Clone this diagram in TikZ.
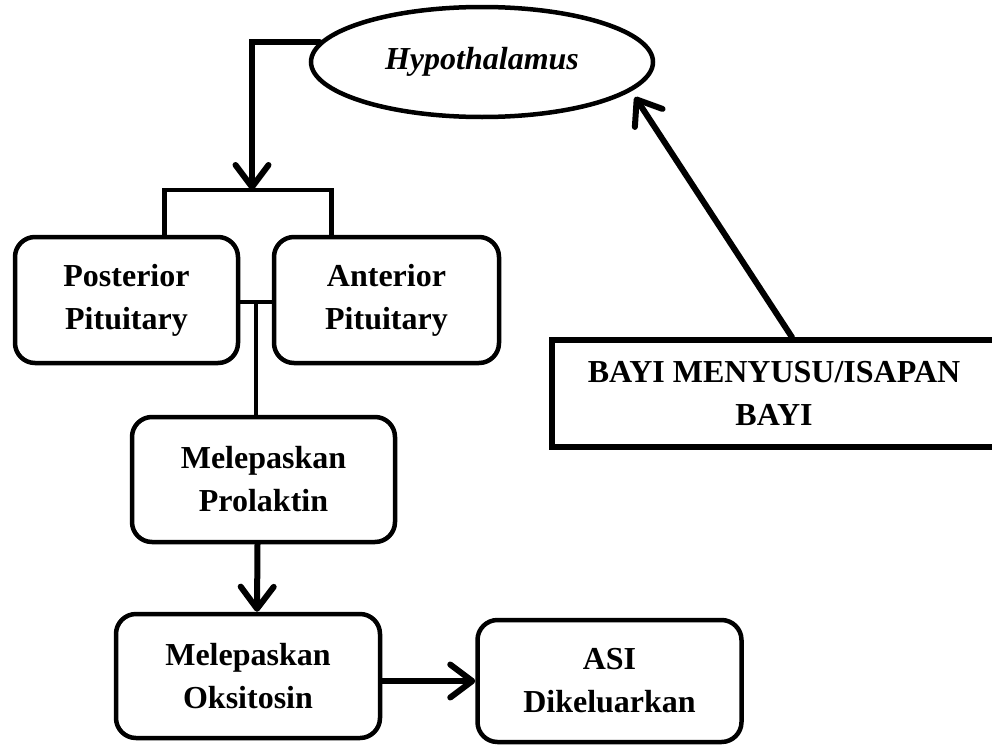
\documentclass[tikz,border=0pt]{standalone}
\usepackage{fontspec}
\setmainfont{Liberation Serif}
\usetikzlibrary{shapes.geometric,arrows.meta}
\begin{document}
\begin{tikzpicture}[x=1pt,y=-1pt,
	box/.style={draw,line width=4.5pt,rounded corners=20pt,align=center,inner sep=0pt,font=\fontsize{32}{43}\selectfont\bfseries},
	link/.style={line width=4.5pt},
	flow/.style={line width=6pt,line cap=round,-{Straight Barb[length=22pt,width=33pt,round]}}]
		\path[use as bounding box,clip] (0,0) rectangle (992,744);
		\node[draw,ellipse,line width=4.5pt,minimum width=342pt,minimum height=110pt,font=\fontsize{32}{43}\selectfont\bfseries\itshape] (hypo) at (482,62) {Hypothalamus};
		\node[box,minimum width=223pt,minimum height=126pt] (post) at (126.5,300) {Posterior\\Pituitary};
		\node[box,minimum width=225pt,minimum height=126pt] (ant) at (386.5,300) {Anterior\\Pituitary};
		\node[box,minimum width=263pt,minimum height=125pt] (prol) at (263.5,479.5) {Melepaskan\\Prolaktin};
		\node[box,minimum width=264pt,minimum height=124pt] (oks) at (248,676) {Melepaskan\\Oksitosin};
		\node[box,minimum width=264pt,minimum height=122pt] (asi) at (609.5,681) {ASI\\Dikeluarkan};
		\node[box,rounded corners=0pt,line width=5.5pt,minimum width=444pt,minimum height=107pt] (bayi) at (774,393.5) {BAYI MENYUSU/ISAPAN\\BAYI};
		% hypothalamus ke pituitary
		\coordinate (split) at (252,190);
		\draw[flow] (hypo.173) -| (split);
		\draw[link] ([xshift=38pt]post.north) |- (split) -| ([xshift=-55pt]ant.north);
		\coordinate (join) at (256,302);
		\draw[line width=3.5pt] (post.east |- join) -- (ant.west |- join);
		\draw[line width=3.5pt] (join) -- (join |- prol.north);
		\draw[flow] ([xshift=-6pt]prol.south) -- ([xshift=9pt]oks.north);
		\draw[flow] (oks.east |- asi.west) -- (asi.west);
		% isapan bayi
		\coordinate (tip) at (635,97);
		\draw[flow] ([xshift=18pt]bayi.north) -- (tip);
	\end{tikzpicture}
\end{document}
